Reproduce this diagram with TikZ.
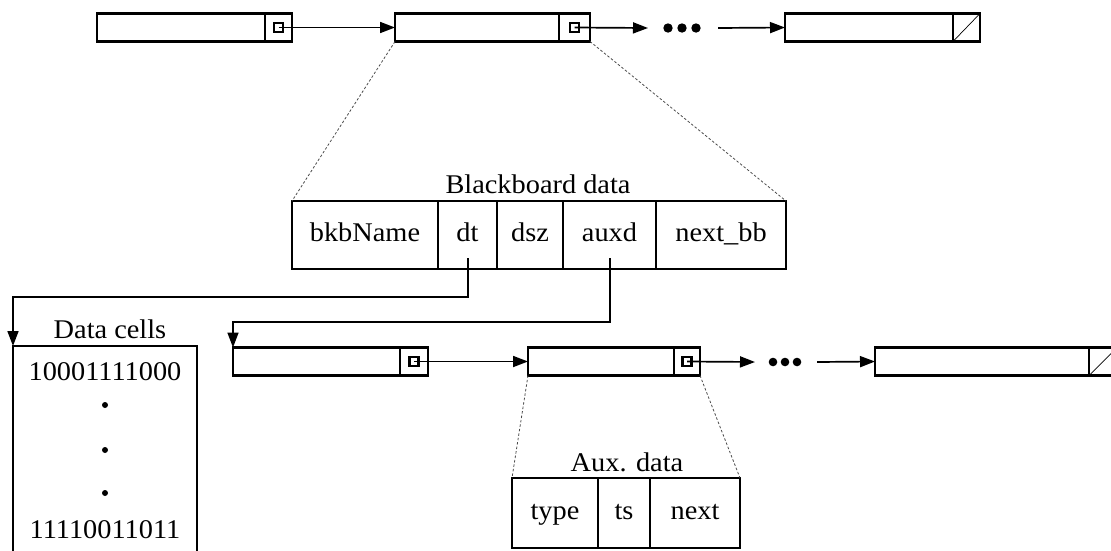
\documentclass[tikz,border=0pt]{standalone}
\usepackage{fontspec}
\setmainfont{Liberation Serif}[FakeStretch=1.05]
\usetikzlibrary{arrows.meta}
\begin{document}
\begin{tikzpicture}[x=1pt,y=-1pt,
  every node/.style={font=\fontsize{27}{31}\selectfont, inner sep=0pt, outer sep=0pt},
  listbox/.style={draw, line width=2.1pt, minimum height=28pt, anchor=west},
  tcell/.style={draw, line width=2.8pt, anchor=west, text height=19pt, text depth=6pt},
  ptrmark/.style={draw, line width=2.2pt, minimum size=9pt},
  link/.style={line width=1.7pt, -{Triangle[length=15pt,width=11pt]}},
  zoomline/.style={gray!60!black, line width=0.8pt, dash pattern=on 2.5pt off 2pt},
]
\useasboundingbox (0,0) rectangle (1111,550);
\clip (0,0) rectangle (1111,550);

% ---- blackboard list ----
\node[listbox, minimum width=168pt] (b1) at (97,27.5) {};
\node[listbox, minimum width=27pt]  (b1p) at (265,27.5) {};
\node[listbox, minimum width=164pt] (b2) at (395,27.5) {};
\node[listbox, minimum width=31pt]  (b2p) at (559,27.5) {};
\node[listbox, minimum width=168pt] (b4) at (785,27.5) {};
\node[listbox, minimum width=27pt]  (b4p) at (953,27.5) {};
\draw[line width=0.7pt] (b4p.south west) -- (b4p.north east);

\coordinate (b2end) at (648,28);
\coordinate (b3start) at (718,28);
\draw[link] (b1p.center) -- (b2.west);
\draw[link] (b2p.center) -- (b2end);
\draw[link] (b3start) -- (b4.west);
\node[ptrmark] (m1) at (b1p.center) {};
\node[ptrmark] (m2) at (b2p.center) {};
\fill (668,28) circle (4.7pt) (682,28) circle (4.7pt) (696,28) circle (4.7pt);

% ---- blackboard record ----
\node (bbtitle) at (538,184) {Blackboard data};
\node[tcell, minimum width=146pt, minimum height=68pt] (bkb)  at (292,235) {bkbName};
\node[tcell, minimum width=59pt,  minimum height=68pt] (dt)   at (438,235) {dt};
\node[tcell, minimum width=66pt,  minimum height=68pt] (dsz)  at (497,235) {dsz};
\node[tcell, minimum width=93pt,  minimum height=68pt] (auxd) at (563,235) {auxd};
\node[tcell, minimum width=130pt, minimum height=68pt] (nbb)  at (656,235) {next\_bb};

\draw[zoomline] (b2.south west) -- (bkb.north west);
\draw[zoomline] (b2p.south east) -- (nbb.north east);

% ---- data cells ----
\node[draw, line width=2.8pt, anchor=north, minimum width=184pt, minimum height=230pt] (cells) at (105,346) {};
\node (celltitle) at (110,329) {Data cells};
\node (first) at (105,372) {10001111000};
\fill (105,405) circle (3pt) (105,450) circle (3pt) (105,493) circle (3pt);
\node (last) at (105,530) {11110011011};

% ---- auxiliary list ----
\node[listbox, minimum width=167pt] (c1) at (233,361.5) {};
\node[listbox, minimum width=28pt]  (c1p) at (400,361.5) {};
\node[listbox, minimum width=146pt] (c2) at (528,361.5) {};
\node[listbox, minimum width=26pt]  (c2p) at (674,361.5) {};
\node[listbox, minimum width=214pt] (c4) at (875,361.5) {};
\node[listbox, minimum width=28pt]  (c4p) at (1089,361.5) {};
\draw[line width=0.7pt] (c4p.south west) -- (c4p.north east);

\coordinate (c2end) at (755,362);
\coordinate (c3start) at (817,362);
\draw[link] (c1p.center) -- (c2.west);
\draw[link] (c2p.center) -- (c2end);
\draw[link] (c3start) -- (c4.west);
\node[ptrmark] (m3) at (c1p.center) {};
\node[ptrmark] (m4) at (c2p.center) {};
\fill (773,362) circle (4.3pt) (785,362) circle (4.3pt) (797,362) circle (4.3pt);

% ---- aux record ----
\node (auxtitle) at (627,462) {Aux. data};
\node[tcell, minimum width=86pt, minimum height=70pt] (type) at (512,513) {type};
\node[tcell, minimum width=52pt, minimum height=70pt] (ts)   at (598,513) {ts};
\node[tcell, minimum width=90pt, minimum height=70pt] (nxt)  at (650,513) {next};

\draw[zoomline] (c2.south west) -- (type.north west);
\draw[zoomline] (c2p.south east) -- (nxt.north east);

% ---- pointers out of the record ----
\coordinate (dtp) at (468,258);
\coordinate (auxp) at (610,258);
\draw[link] (dtp) -- (468,297) -- (13,297) -- (cells.north west);
\draw[link] (auxp) -- (610,322) -- (233,322) -- (c1.north west);
\end{tikzpicture}
\end{document}
